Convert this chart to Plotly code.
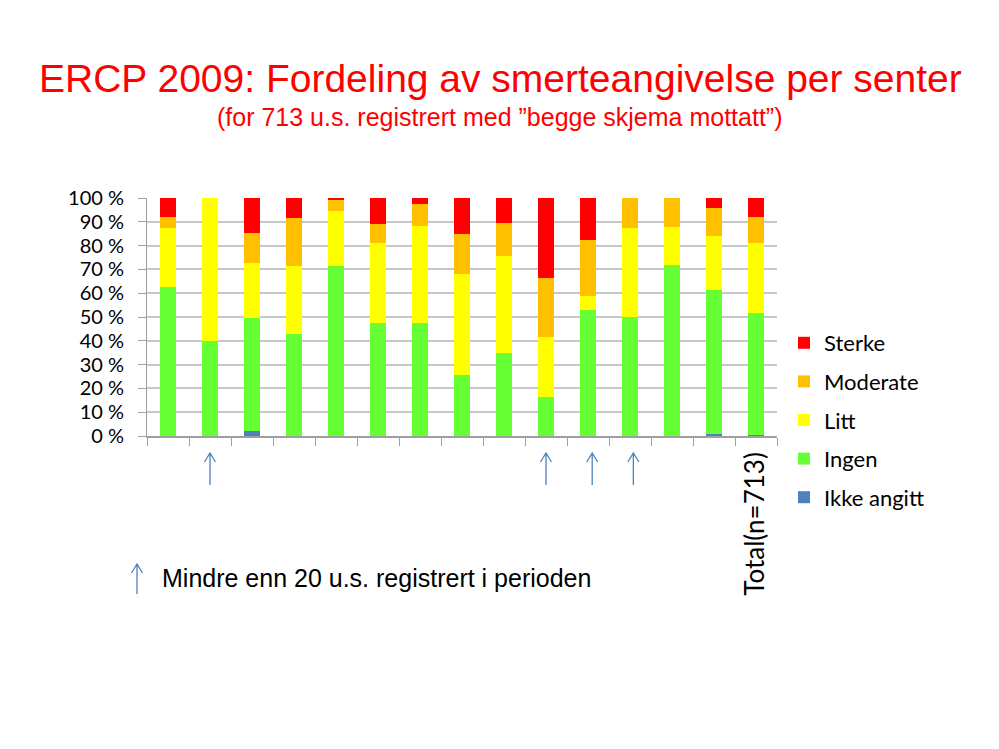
import plotly.graph_objects as go

categories = [f"S{i}" for i in range(1, 15)] + ["Total(n=713)"]
ikke_angitt = [0, 0, 2.0, 0, 0, 0, 0, 0, 0, 0, 0, 0, 0, 1.0, 0.4]
ingen = [62.5, 40.0, 47.6, 42.9, 71.4, 47.6, 47.6, 25.5, 35.0, 16.5, 52.8, 50.0, 71.8, 60.2, 51.3]
litt = [25.0, 60.0, 23.0, 28.6, 23.0, 33.4, 40.6, 42.4, 40.5, 25.1, 6.0, 37.5, 16.0, 22.7, 29.4]
moderate = [4.4, 0, 12.8, 20.1, 4.6, 8.1, 9.4, 17.1, 14.0, 24.9, 23.4, 12.5, 12.2, 12.0, 10.9]
sterke = [8.1, 0, 14.6, 8.4, 1.0, 10.9, 2.4, 15.0, 10.5, 33.5, 17.8, 0, 0, 4.1, 8.0]
arrow_categories = ["S2", "S10", "S11", "S12"]
tick_labels = [""] * 14 + ["Total(n=713)"]
y_ticks = list(range(0, 101, 10))
y_tick_labels = [f"{v} %" for v in y_ticks]

series = [
    ("Ikke angitt", ikke_angitt, "#4F81BD"),
    ("Ingen", ingen, "#66FF33"),
    ("Litt", litt, "#FFFF00"),
    ("Moderate", moderate, "#FFC000"),
    ("Sterke", sterke, "#FF0000"),
]

# reference pixel geometry of plot area (page has 8px body margin)
OFF = 8
L, R, T, B = 147, 777, 198, 436
W, H = R - L, B - T
FW, FH = 999, 749


def px(x):
    return (x - L) / W


def py(y):
    return (B - y) / H


fig = go.Figure()
for k, (name, vals, col) in enumerate(series):
    fig.add_trace(go.Bar(x=categories, y=vals, name=name,
                         marker=dict(color=col, line=dict(width=0)), legendgroup=name,
                         legendrank=len(series) - k))

fig.update_layout(
    barmode="stack",
    bargap=0.6,
    width=FW, height=FH,
    margin=dict(l=L - OFF, r=FW - W - (L - OFF), t=T - OFF, b=FH - H - (T - OFF), autoexpand=False),
    plot_bgcolor="white", paper_bgcolor="white",
    showlegend=True,
    legend=dict(traceorder="grouped", x=px(784), xanchor="left", y=py(322), yanchor="top",
                font=dict(family="Lato", size=22, color="black"), tracegroupgap=7,
                itemwidth=30),
    font=dict(family="Lato", color="black"),
)
fig.update_yaxes(range=[0, 100], tickmode="array", tickvals=y_ticks, ticktext=y_tick_labels,
                 showgrid=True, gridcolor="#C8C8C8", gridwidth=1.5,
                 showline=True, linecolor="#A0A0A0", linewidth=1,
                 ticks="outside", ticklen=8, tickcolor="#A0A0A0", automargin=False,
                 ticklabelstandoff=10,
                 tickfont=dict(family="Lato", size=20, color="black"), zeroline=False)
fig.update_xaxes(tickmode="array", tickvals=categories, ticktext=tick_labels, tickangle=-90,
                 tickson="boundaries", ticks="outside", ticklen=8, tickcolor="#A0A0A0",
                 showline=True, linecolor="#A0A0A0", linewidth=1.5, automargin=False,
                 ticklabelstandoff=4,
                 tickfont=dict(family="Lato", size=26, color="black"))

ARROW = "#4F81BD"
hw = 5.5  # chevron half width in px
hh = 9    # chevron height in px


def arrow_path(xc, y_top, y_bot, xscale):
    return (f"M {xc},{py(y_bot)} L {xc},{py(y_top)} "
            f"M {xc - hw * xscale},{py(y_top + hh)} L {xc},{py(y_top)} L {xc + hw * xscale},{py(y_top + hh)}")


arrow_shift = [0, 0, 0.1, 0.08]
for c, s in zip(arrow_categories, arrow_shift):
    i = categories.index(c) + s
    fig.add_shape(type="path", xref="x", yref="paper", path=arrow_path(i, 453, 485, 1 / 42),
                  line=dict(color=ARROW, width=1.3))

fig.add_shape(type="path", xref="paper", yref="paper", path=arrow_path(px(137), 564, 594, 1 / W),
              line=dict(color=ARROW, width=1.3))
fig.add_annotation(x=px(160), y=py(578), xref="paper", yref="paper",
                   text="Mindre enn 20 u.s. registrert i perioden", showarrow=False,
                   xanchor="left", yanchor="middle",
                   font=dict(family="Liberation Sans", size=25, color="black"))

fig.add_annotation(x=px(500), y=py(78), xref="paper", yref="paper",
                   text="ERCP 2009: Fordeling av smerteangivelse per senter", showarrow=False,
                   xanchor="center", yanchor="middle",
                   font=dict(family="Liberation Sans", size=39, color="#FF0000"))
fig.add_annotation(x=px(500), y=py(117), xref="paper", yref="paper",
                   text="(for 713 u.s. registrert med \u201dbegge skjema mottatt\u201d)",
                   showarrow=False, xanchor="center", yanchor="middle",
                   font=dict(family="Liberation Sans", size=25, color="#FF0000"))

fig.write_html("out.html")
